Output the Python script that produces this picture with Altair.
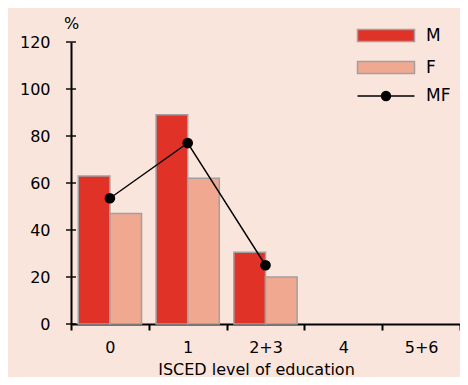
import altair as alt
import pandas as pd

categories = ["0", "1", "2+3", "4", "5+6"]
bar_cats = ["0", "1", "2+3"]
m_values = [63, 89, 30.5]
f_values = [47, 62, 20]
mf_values = [53.5, 77, 25]
y_ticks = [0, 20, 40, 60, 80, 100, 120]
series = ["M", "F"]

bars_df = pd.DataFrame({
    "level": bar_cats * 2,
    "series": ["M"] * len(bar_cats) + ["F"] * len(bar_cats),
    "value": m_values + f_values,
})
mf_df = pd.DataFrame({"level": bar_cats, "series2": ["MF"] * len(bar_cats), "value": mf_values})
ticks_df = pd.DataFrame({"value": y_ticks})

FONT = "DejaVu Sans"

x_enc = alt.X(
    "level:N",
    scale=alt.Scale(domain=categories, paddingInner=0, paddingOuter=0),
    axis=alt.Axis(
        title="ISCED level of education", labelAngle=0, tickBand="extent",
        tickSize=6, tickWidth=2, tickColor="black", domainWidth=2, domainColor="black",
        labelFontSize=16, labelPadding=9, labelColor="black", labelFont=FONT,
        titleFontSize=16, titleFontWeight="normal", titleFont=FONT, titleColor="black",
        titlePadding=6, titleX=185, titleAlign="center",
    ),
)
y_enc = alt.Y(
    "value:Q",
    scale=alt.Scale(domain=[0, 120], nice=False),
    axis=alt.Axis(
        values=y_ticks, ticks=False, grid=False, labelPadding=21, domainWidth=2,
        domainColor="black", labelFontSize=16, labelColor="black", labelFont=FONT,
        title="%", titleAngle=0, titleX=0, titleY=-19, titleAlign="center",
        titleBaseline="middle", titleFontSize=16, titleFontWeight="normal",
        titleFont=FONT, titleColor="black",
    ),
)

rect_path = "M-4.75,-1H4.75V1H-4.75Z"
line_path = "M-4.75,0H4.75M0.75,0A0.75,0.75,0,1,1,-0.75,0A0.75,0.75,0,1,1,0.75,0Z"

bars = alt.Chart(bars_df).mark_bar(stroke="#a0a0a0", strokeWidth=1.5, opacity=1).encode(
    x=x_enc,
    y=y_enc,
    xOffset=alt.XOffset("series:N", scale=alt.Scale(domain=series, paddingOuter=0.23, paddingInner=0)),
    color=alt.Color(
        "series:N",
        scale=alt.Scale(domain=series, range=["#e03226", "#f0a891"]),
        legend=alt.Legend(
            title=None, orient="none", legendX=306.5, legendY=-15, padding=0,
            symbolType=rect_path, symbolSize=144, symbolStrokeColor="#a0a0a0",
            symbolStrokeWidth=1.5, symbolOpacity=1, labelOffset=31.5,
            labelFontSize=17, labelFont=FONT, labelColor="black", rowPadding=13,
        ),
    ),
)

yticks = alt.Chart(ticks_df).mark_tick(color="black", thickness=2, size=10, orient="horizontal").encode(
    y=y_enc, x=alt.value(0)
)

line = alt.Chart(mf_df).mark_line(
    strokeWidth=1.4,
    point=alt.OverlayMarkDef(filled=True, fill="black", size=75, opacity=1),
).encode(
    x=x_enc,
    y=y_enc,
    stroke=alt.Stroke(
        "series2:N",
        scale=alt.Scale(domain=["MF"], range=["black"]),
        legend=alt.Legend(
            title=None, orient="none", legendX=306.5, legendY=45.5, padding=0,
            symbolType=line_path, symbolSize=144, symbolStrokeColor="black",
            symbolFillColor="black", symbolStrokeWidth=1.4, symbolOpacity=1,
            labelOffset=31.5, labelFontSize=17, labelFont=FONT, labelColor="black",
        ),
    ),
)

chart = alt.layer(bars, yticks, line).properties(
    width=389, height=282,
    padding={"left": 63, "top": 34, "right": 0, "bottom": 53},
    autosize=alt.AutoSizeParams(type="none"),
    background="#fae5dc",
).configure_view(stroke=None).resolve_legend(color="independent", stroke="independent")

chart.save("out.html", embed_options={"renderer": "svg", "actions": False})
